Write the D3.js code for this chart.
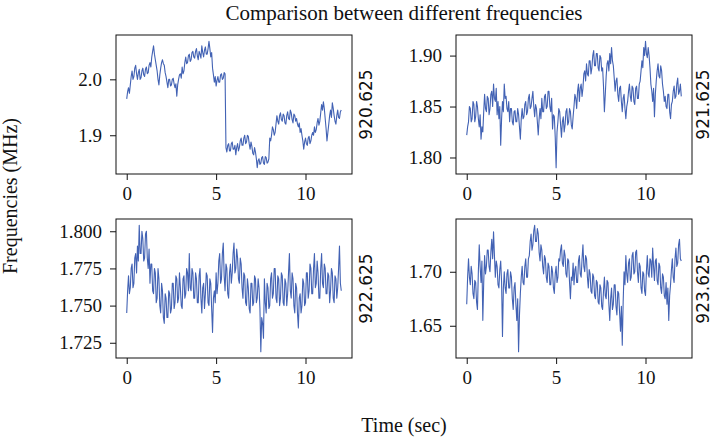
<!DOCTYPE html>
<html>
<head>
<meta charset="utf-8">
<script src="https://cdn.jsdelivr.net/npm/d3@7"></script>
<style>
body{margin:0;background:#fff}
text{font-family:"Liberation Serif","DejaVu Serif",serif;fill:#111}
</style>
</head>
<body>
<div id="chart"></div>
<script>
// one reading every 0.05 s, from 0 to 12 s (one row = one second)
const sample_step = 0.05;

const freq_920 = [
1.965,1.978,1.985,1.975,1.99,2.005,2.015,2.0,2.005,2.02,2.025,2.01,2.0,2.012,2.018,2.0,2.003,2.015,2.02,2.008,
2.005,2.018,2.022,2.01,2.012,2.025,2.03,2.022,2.04,2.05,2.06,2.045,2.035,2.025,2.015,2.0,1.99,2.008,2.02,2.03,
2.035,2.028,2.025,2.012,2.005,1.995,1.985,2.0,2.0,1.988,1.99,2.0,2.002,1.992,1.985,1.992,1.97,1.99,2.0,2.008,
2.01,2.002,2.022,2.01,2.015,2.03,2.04,2.028,2.03,2.042,2.045,2.032,2.035,2.048,2.05,2.04,2.038,2.05,2.055,2.042,
2.035,2.05,2.045,2.038,2.06,2.048,2.04,2.052,2.058,2.045,2.045,2.055,2.068,2.055,2.04,2.048,2.02,2.008,1.995,2.005,
1.988,1.998,2.005,1.995,1.995,2.008,2.01,2.0,2.002,2.012,2.01,1.878,1.87,1.882,1.885,1.872,1.872,1.885,1.888,1.875,
1.875,1.882,1.865,1.878,1.885,1.872,1.878,1.89,1.895,1.882,1.882,1.895,1.9,1.885,1.888,1.9,1.898,1.885,1.875,1.888,
1.88,1.868,1.865,1.878,1.87,1.858,1.842,1.855,1.858,1.848,1.85,1.86,1.862,1.85,1.848,1.862,1.86,1.85,1.852,1.858,
1.895,1.89,1.9,1.915,1.91,1.9,1.905,1.92,1.935,1.925,1.92,1.935,1.94,1.928,1.925,1.938,1.935,1.922,1.92,1.935,
1.942,1.93,1.928,1.945,1.94,1.928,1.922,1.938,1.935,1.925,1.93,1.92,1.915,1.922,1.905,1.912,1.9,1.89,1.875,1.888,
1.895,1.885,1.882,1.895,1.898,1.885,1.89,1.9,1.905,1.9,1.915,1.905,1.91,1.922,1.93,1.918,1.925,1.94,1.955,1.945,
1.96,1.948,1.93,1.912,1.89,1.905,1.92,1.935,1.945,1.932,1.958,1.948,1.935,1.925,1.92,1.935,1.945,1.932,1.93,1.942,
1.945];

const freq_921 = [
1.822,1.83,1.835,1.85,1.848,1.835,1.838,1.855,1.852,1.835,1.84,1.855,1.85,1.838,1.83,1.842,1.818,1.83,1.825,1.845,
1.862,1.848,1.845,1.86,1.858,1.842,1.848,1.862,1.865,1.85,1.872,1.858,1.855,1.868,1.842,1.855,1.838,1.85,1.812,1.838,
1.855,1.845,1.872,1.858,1.86,1.848,1.845,1.855,1.835,1.848,1.848,1.835,1.832,1.845,1.846,1.835,1.835,1.848,1.842,1.83,
1.818,1.838,1.848,1.838,1.84,1.852,1.855,1.842,1.845,1.858,1.862,1.848,1.85,1.858,1.865,1.85,1.84,1.852,1.848,1.835,
1.822,1.838,1.848,1.838,1.858,1.845,1.845,1.86,1.862,1.848,1.85,1.865,1.865,1.85,1.845,1.858,1.828,1.842,1.84,1.82,
1.79,1.825,1.835,1.848,1.845,1.832,1.82,1.835,1.84,1.825,1.832,1.845,1.848,1.832,1.835,1.848,1.845,1.832,1.828,1.84,
1.85,1.862,1.858,1.848,1.865,1.872,1.855,1.868,1.872,1.86,1.868,1.882,1.885,1.875,1.892,1.882,1.88,1.895,1.895,1.882,
1.888,1.9,1.905,1.89,1.89,1.902,1.902,1.888,1.885,1.9,1.898,1.885,1.888,1.87,1.845,1.862,1.88,1.892,1.895,1.885,
1.902,1.892,1.908,1.895,1.89,1.878,1.865,1.875,1.878,1.862,1.855,1.868,1.87,1.855,1.845,1.858,1.862,1.848,1.838,1.85,
1.855,1.865,1.872,1.86,1.855,1.87,1.868,1.855,1.852,1.868,1.87,1.858,1.858,1.872,1.875,1.885,1.895,1.888,1.908,1.9,
1.914,1.902,1.898,1.908,1.9,1.888,1.872,1.865,1.855,1.868,1.84,1.862,1.875,1.885,1.892,1.88,1.878,1.89,1.885,1.872,
1.865,1.855,1.86,1.85,1.848,1.862,1.862,1.845,1.838,1.852,1.855,1.865,1.87,1.858,1.86,1.872,1.878,1.862,1.865,1.872,
1.86];

const freq_922 = [
1.745,1.76,1.77,1.758,1.762,1.775,1.778,1.762,1.765,1.782,1.785,1.772,1.79,1.78,1.804,1.785,1.785,1.8,1.795,1.78,
1.782,1.798,1.8,1.782,1.775,1.788,1.765,1.778,1.778,1.76,1.758,1.775,1.772,1.752,1.755,1.775,1.768,1.75,1.745,1.765,
1.76,1.742,1.738,1.758,1.755,1.742,1.742,1.76,1.758,1.745,1.748,1.765,1.765,1.748,1.752,1.77,1.768,1.752,1.755,1.772,
1.762,1.75,1.748,1.768,1.77,1.755,1.758,1.775,1.772,1.76,1.785,1.762,1.76,1.775,1.772,1.755,1.755,1.772,1.768,1.752,
1.752,1.77,1.775,1.755,1.745,1.762,1.765,1.748,1.758,1.772,1.77,1.752,1.75,1.768,1.765,1.748,1.732,1.755,1.76,1.752,
1.772,1.758,1.765,1.78,1.785,1.765,1.768,1.785,1.792,1.77,1.76,1.778,1.775,1.758,1.755,1.772,1.778,1.765,1.772,1.785,
1.792,1.772,1.775,1.788,1.782,1.768,1.765,1.782,1.778,1.762,1.755,1.772,1.77,1.752,1.75,1.768,1.762,1.748,1.745,1.765,
1.765,1.75,1.752,1.77,1.768,1.752,1.755,1.768,1.762,1.748,1.719,1.742,1.738,1.728,1.768,1.752,1.745,1.765,1.762,1.748,
1.75,1.768,1.772,1.755,1.758,1.775,1.775,1.755,1.752,1.77,1.768,1.75,1.755,1.772,1.77,1.752,1.75,1.768,1.765,1.75,
1.758,1.772,1.785,1.76,1.755,1.772,1.768,1.75,1.745,1.765,1.762,1.745,1.735,1.755,1.758,1.745,1.75,1.768,1.765,1.75,
1.752,1.772,1.772,1.755,1.76,1.778,1.775,1.758,1.758,1.775,1.785,1.762,1.765,1.78,1.772,1.755,1.755,1.775,1.785,1.765,
1.762,1.778,1.775,1.758,1.758,1.772,1.77,1.752,1.76,1.775,1.772,1.755,1.752,1.77,1.768,1.755,1.762,1.775,1.79,1.765,
1.76];

const freq_923 = [
1.67,1.695,1.712,1.695,1.688,1.705,1.698,1.68,1.675,1.692,1.69,1.672,1.665,1.7,1.725,1.705,1.69,1.71,1.655,1.69,
1.715,1.698,1.705,1.72,1.72,1.705,1.7,1.718,1.73,1.712,1.737,1.715,1.695,1.71,1.705,1.688,1.685,1.702,1.71,1.69,
1.64,1.685,1.7,1.685,1.68,1.698,1.702,1.685,1.685,1.7,1.695,1.675,1.665,1.685,1.69,1.67,1.655,1.675,1.626,1.66,
1.68,1.695,1.705,1.69,1.688,1.705,1.712,1.695,1.695,1.712,1.715,1.728,1.735,1.72,1.725,1.738,1.743,1.728,1.728,1.74,
1.735,1.718,1.71,1.725,1.72,1.705,1.698,1.715,1.712,1.695,1.69,1.708,1.705,1.688,1.688,1.705,1.7,1.685,1.68,1.698,
1.705,1.69,1.695,1.712,1.71,1.72,1.725,1.708,1.705,1.72,1.715,1.698,1.695,1.712,1.71,1.69,1.675,1.695,1.692,1.708,
1.688,1.702,1.705,1.69,1.69,1.71,1.715,1.698,1.695,1.712,1.725,1.705,1.7,1.715,1.712,1.695,1.685,1.702,1.698,1.682,
1.68,1.698,1.695,1.678,1.675,1.692,1.69,1.672,1.67,1.688,1.685,1.668,1.665,1.682,1.695,1.678,1.675,1.692,1.69,1.67,
1.655,1.675,1.685,1.665,1.67,1.688,1.688,1.668,1.66,1.682,1.68,1.662,1.645,1.668,1.632,1.672,1.7,1.688,1.715,1.698,
1.69,1.708,1.712,1.692,1.695,1.715,1.718,1.698,1.7,1.718,1.72,1.7,1.69,1.708,1.705,1.685,1.68,1.7,1.698,1.682,
1.678,1.7,1.715,1.698,1.695,1.712,1.71,1.695,1.722,1.705,1.692,1.71,1.712,1.692,1.688,1.708,1.705,1.685,1.68,1.698,
1.695,1.678,1.675,1.69,1.67,1.685,1.655,1.678,1.688,1.702,1.712,1.695,1.69,1.712,1.722,1.705,1.708,1.725,1.73,1.712,
1.71];

const channel_names = ["920.625", "921.625", "922.625", "923.625"];
const y_tick_values = [[1.9, 2.0], [1.80, 1.85, 1.90], [1.725, 1.750, 1.775, 1.800], [1.65, 1.70]];
const y_tick_formats = [".1f", ".2f", ".3f", ".2f"];
const x_tick_values = [0, 5, 10];

const W = 714, H = 440;
const line_color = "#4262b4";

const svg = d3.select("#chart").append("svg")
  .attr("width", W).attr("height", H)
  .attr("viewBox", [0, 0, W, H]);

// subplot boxes  [left, top, width, height]
const boxes = [[116, 35, 236, 139], [456, 35, 236, 139], [116, 219, 236, 139], [456, 219, 236, 139]];
const all_series = [freq_920, freq_921, freq_922, freq_923];

all_series.forEach((vals, k) => {
  const [bx, by, bw, bh] = boxes[k];
  const pts = vals.map((v, i) => [i * sample_step, v]);

  // matplotlib-like 5% margins
  let xe = d3.extent(pts, d => d[0]), ye = d3.extent(pts, d => d[1]);
  let xm = (xe[1] - xe[0]) * 0.05, ym = (ye[1] - ye[0]) * 0.05;
  const x = d3.scaleLinear().domain([xe[0] - xm, xe[1] + xm]).range([bx, bx + bw]);
  const y = d3.scaleLinear().domain([ye[0] - ym, ye[1] + ym]).range([by + bh, by]);

  const g = svg.append("g");

  g.append("defs").append("clipPath").attr("id", "clip" + k)
    .append("rect").attr("x", bx).attr("y", by).attr("width", bw).attr("height", bh);

  g.append("path")
    .datum(pts)
    .attr("clip-path", "url(#clip" + k + ")")
    .attr("fill", "none")
    .attr("stroke", line_color)
    .attr("stroke-width", 1.1)
    .attr("stroke-linejoin", "round")
    .attr("d", d3.line().x(d => x(d[0])).y(d => y(d[1])));

  const ax = g.append("g").attr("transform", `translate(0,${by + bh})`)
    .call(d3.axisBottom(x).tickValues(x_tick_values).tickFormat(d3.format("d")).tickSize(6).tickPadding(7));
  const ay = g.append("g").attr("transform", `translate(${bx},0)`)
    .call(d3.axisLeft(y).tickValues(y_tick_values[k]).tickFormat(d3.format(y_tick_formats[k])).tickSize(6).tickPadding(8));
  [ax, ay].forEach(a => {
    a.select(".domain").remove();
    a.selectAll("line").attr("stroke", "#111").attr("stroke-width", 1);
    a.selectAll("text").attr("font-family", '"Liberation Serif", serif').attr("font-size", 19).attr("fill", "#111");
  });

  g.append("rect")
    .attr("x", bx).attr("y", by).attr("width", bw).attr("height", bh)
    .attr("fill", "none").attr("stroke", "#111").attr("stroke-width", 1);

  // channel name on the right side (right column sits close to the page edge)
  const off = k % 2 ? 17 : 20;
  g.append("text")
    .attr("transform", `translate(${bx + bw + off},${by + bh / 2}) rotate(-90)`)
    .attr("text-anchor", "middle")
    .style("font-family", '"DejaVu Sans", sans-serif')
    .attr("font-size", 17)
    .text(channel_names[k]);
});

svg.append("text").attr("x", 404).attr("y", 20).attr("text-anchor", "middle")
  .attr("font-size", 21).text("Comparison between different frequencies");

svg.append("text").attr("x", 404).attr("y", 432).attr("text-anchor", "middle")
  .attr("font-size", 20).text("Time (sec)");

svg.append("text").attr("transform", "translate(17,196) rotate(-90)").attr("text-anchor", "middle")
  .attr("font-size", 20).text("Frequencies (MHz)");
</script>
</body>
</html>
